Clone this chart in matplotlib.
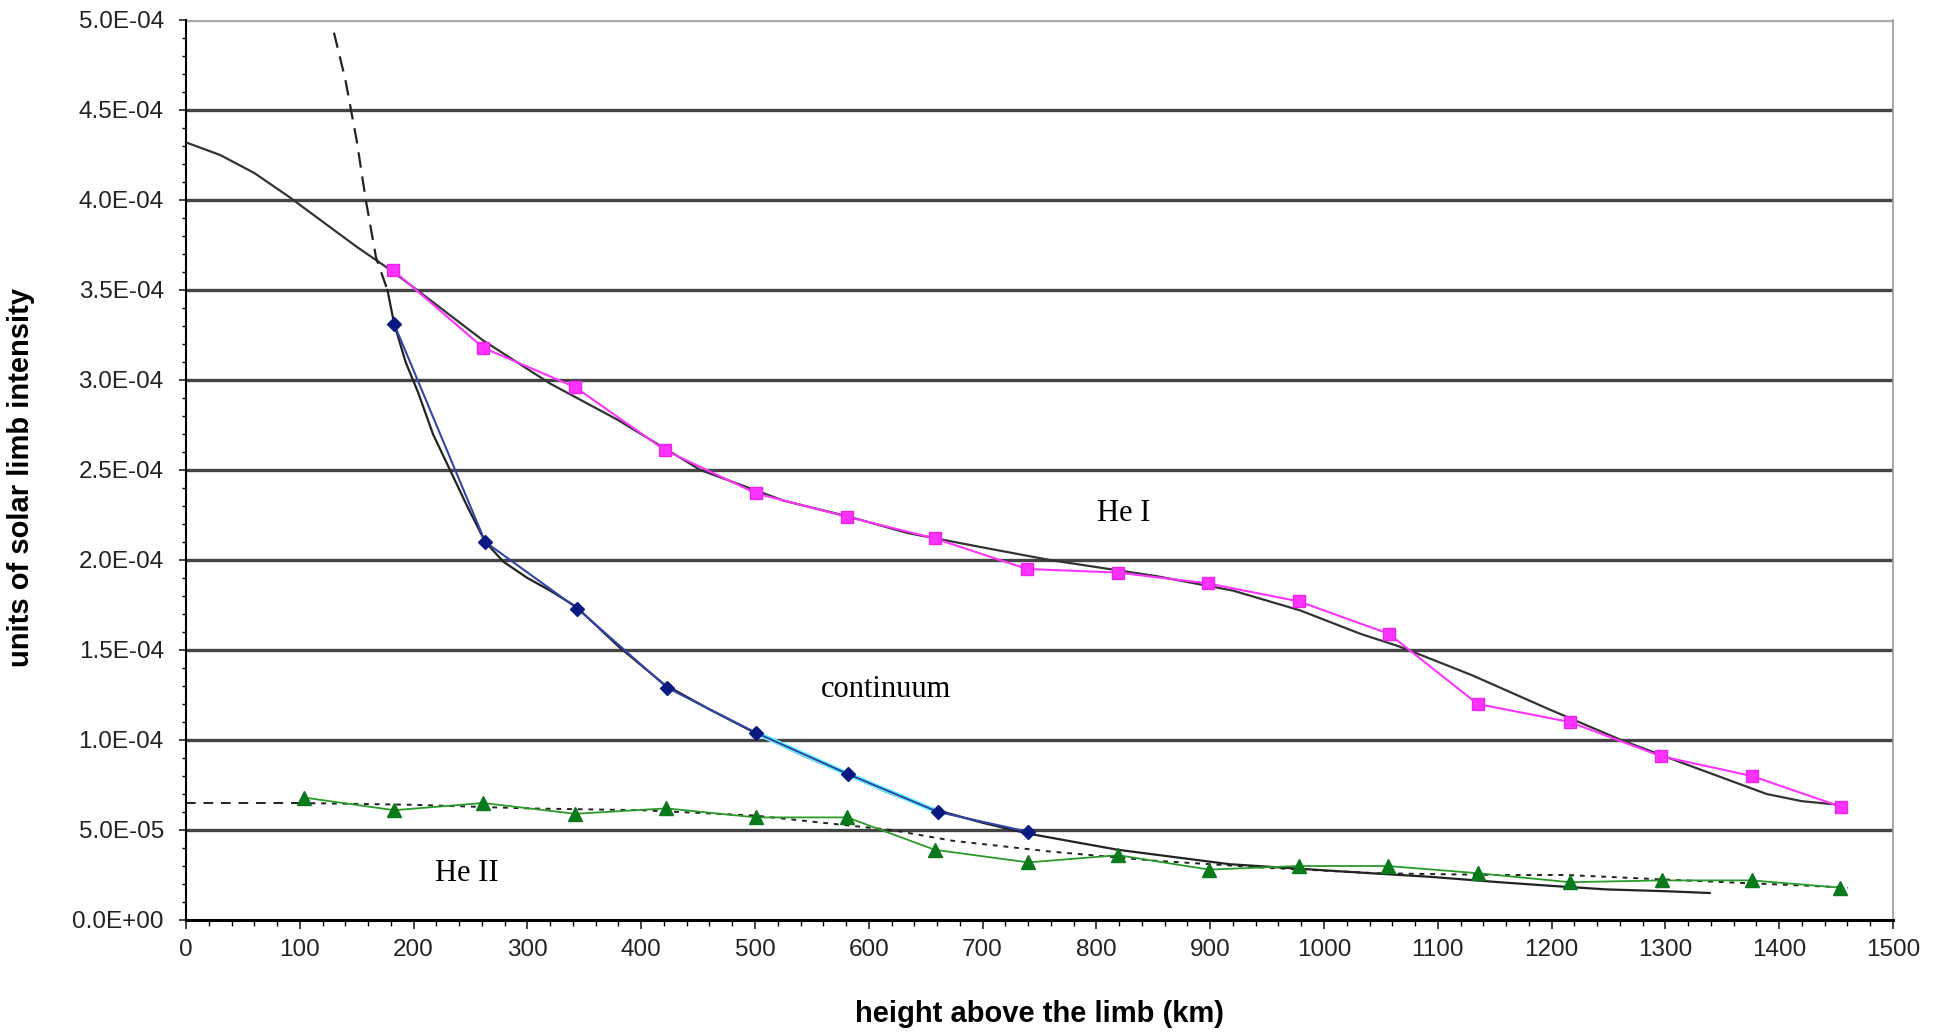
import numpy as np
import matplotlib
matplotlib.use('Agg')
import matplotlib.pyplot as plt
from matplotlib.ticker import MultipleLocator, FuncFormatter

plt.rcParams['font.family'] = ['Liberation Sans', 'DejaVu Sans']

# He I line (magenta squares) and its fit
hei_x = [182, 261, 342, 421, 501, 581, 658, 739, 819, 898, 978, 1057, 1135, 1216, 1296, 1376, 1454]
hei_y = [3.61, 3.18, 2.96, 2.61, 2.37, 2.24, 2.12, 1.95, 1.93, 1.87, 1.77, 1.59, 1.20, 1.10, 0.91, 0.80, 0.63]
hei_fit_x = [0, 30, 60, 90, 120, 150, 180, 203, 261, 320, 379, 452, 525, 583, 634, 700, 759, 853, 920,
             979, 1032, 1066, 1130, 1198, 1261, 1316, 1389, 1420, 1453]
hei_fit_y = [4.32, 4.25, 4.15, 4.02, 3.88, 3.74, 3.61, 3.50, 3.22, 2.98, 2.78, 2.50, 2.33, 2.24, 2.15, 2.07, 2.00, 1.91, 1.83,
             1.72, 1.59, 1.52, 1.36, 1.17, 1.00, 0.87, 0.70, 0.66, 0.64]

# continuum (blue diamonds) and its fit
cont_x = [183, 263, 344, 423, 501, 582, 661, 740]
cont_y = [3.31, 2.10, 1.73, 1.29, 1.04, 0.81, 0.60, 0.49]
cont_fit_x = [130, 140, 150, 158, 167, 177, 183, 193, 204, 217, 232, 247, 263, 279, 300, 320, 343, 380,
              420, 460, 500, 540, 580, 620, 660, 700, 740, 819, 917, 1015, 1093, 1154, 1199, 1248, 1300, 1339]
cont_fit_y = [4.93, 4.67, 4.33, 4.00, 3.68, 3.50, 3.31, 3.10, 2.93, 2.70, 2.50, 2.30, 2.10, 1.99, 1.90, 1.83, 1.74, 1.52,
              1.31, 1.17, 1.04, 0.92, 0.81, 0.70, 0.61, 0.54, 0.48, 0.39, 0.31, 0.27, 0.24, 0.21, 0.19, 0.17, 0.16, 0.15]

# He II (green triangles) and its fit
heii_x = [104, 183, 261, 342, 422, 501, 581, 658, 740, 819, 899, 978, 1056, 1135, 1216, 1297, 1376, 1453]
heii_y = [0.68, 0.61, 0.65, 0.59, 0.62, 0.57, 0.57, 0.39, 0.32, 0.36, 0.28, 0.30, 0.30, 0.26, 0.21, 0.22, 0.22, 0.18]
heii_fit_x = [0, 100, 200, 300, 400, 500, 560, 620, 674, 760, 850, 950, 1046, 1150, 1214, 1316, 1426, 1460]
heii_fit_y = [0.65, 0.65, 0.64, 0.62, 0.61, 0.58, 0.54, 0.50, 0.44, 0.38, 0.33, 0.29, 0.26, 0.25, 0.25, 0.22, 0.19, 0.18]

scale = 1e-4
y_levels = np.arange(0.5, 5.01, 0.5)

fig = plt.figure(figsize=(19.46, 10.33), dpi=100)
ax = fig.add_axes([186 / 1946, 113 / 1033, 1707 / 1946, 900 / 1033])

# horizontal grid lines
for lv in y_levels:
    if lv < 5.0:
        ax.axhline(lv * scale, color='#444444', lw=2.4, zorder=1)
    else:
        ax.axhline(lv * scale, color='#aaaaaa', lw=2.4, zorder=1)

s = lambda v: np.array(v) * scale

# He I
ax.plot(hei_fit_x, s(hei_fit_y), color='#333333', lw=1.6, zorder=3)
ax.plot(hei_x, s(hei_y), color='#ff33ff', lw=1.5, marker='s', ms=9, mec='#ee22ee', zorder=4)

# continuum
fx = np.array(cont_fit_x)
fy = s(cont_fit_y)
k = int(np.argmax(fx >= 177))
ax.plot(fx[:k + 1], fy[:k + 1], color='#222222', lw=1.6, ls=(0, (7, 4)), zorder=3)
ax.plot(fx[k:], fy[k:], color='#222222', lw=1.6, zorder=3)
ax.plot(cont_x[4:7], s(cont_y[4:7]), color='#66ffff', lw=3.5, zorder=3)
ax.plot(cont_x, s(cont_y), color='#3344aa', lw=1.5, marker='D', ms=7, mfc='#0a1a80', mec='#0a1a80', zorder=4)

# He II
hx = np.array(heii_fit_x)
hy = s(heii_fit_y)
m = int(np.argmax(hx >= 100))
ax.plot(hx[:m + 1], hy[:m + 1], color='#222222', lw=1.4, ls=(0, (5, 4)), zorder=3)
ax.plot(hx[m:], hy[m:], color='#222222', lw=1.4, ls=(0, (2.5, 3)), zorder=3)
ax.plot(heii_x, s(heii_y), color='#2a9a2a', lw=1.3, marker='^', ms=10, mfc='#0b7a1c', mec='#0b7a1c', zorder=4)

ax.text(824, 2.26e-4, 'He I', fontfamily='Liberation Serif', fontsize=22, ha='center', va='center')
ax.text(615, 1.28e-4, 'continuum', fontfamily='Liberation Serif', fontsize=22, ha='center', va='center')
ax.text(247, 0.256e-4, 'He II', fontfamily='Liberation Serif', fontsize=22, ha='center', va='center')

ax.set_xlim(0, 1500)
ax.set_ylim(0, 5e-4)
ax.xaxis.set_major_locator(MultipleLocator(100))
ax.xaxis.set_minor_locator(MultipleLocator(20))
ax.yaxis.set_major_locator(MultipleLocator(0.5e-4))
ax.yaxis.set_minor_locator(MultipleLocator(0.1e-4))
ax.yaxis.set_major_formatter(FuncFormatter(lambda v, p: '%.1E' % v))

ax.tick_params(axis='both', which='major', direction='out', width=1.2, labelsize=17.5, colors='#222222')
ax.tick_params(axis='y', which='major', length=5, pad=11)
ax.tick_params(axis='y', which='minor', length=3, width=1)
ax.tick_params(axis='x', which='major', length=6.5, pad=7)
ax.tick_params(axis='x', which='minor', length=4, width=1)

ax.spines['top'].set_visible(False)
ax.spines['right'].set_color('#999999')
ax.spines['right'].set_linewidth(1.2)
ax.spines['bottom'].set_linewidth(2.2)
ax.spines['left'].set_linewidth(1.5)

ax.set_xlabel('height above the limb (km)', fontsize=21, fontweight='bold')
ax.set_ylabel('units of solar limb intensity', fontsize=21, fontweight='bold')
ax.xaxis.set_label_coords(0.5, -0.089)
ax.yaxis.set_label_coords(-0.0885, 0.492)

fig.savefig('out.png', dpi=100)
